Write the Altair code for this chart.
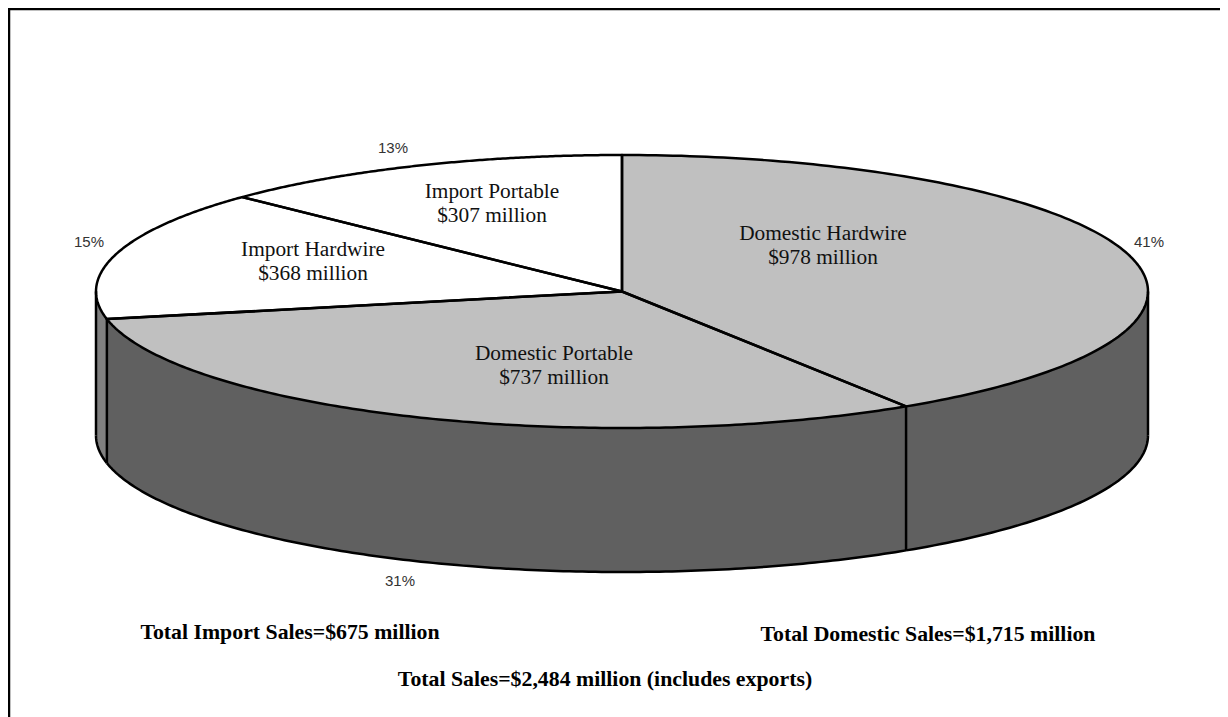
import numpy as np
import pandas as pd
import altair as alt

# ---- values ----
slices = ["Domestic Hardwire", "Domestic Portable", "Import Hardwire", "Import Portable"]
sales = [978, 737, 368, 307]
percent = ["41%", "31%", "15%", "13%"]
amount = ["$978 million", "$737 million", "$368 million", "$307 million"]
totals = ["Total Import Sales=$675 million", "Total Domestic Sales=$1,715 million",
          "Total Sales=$2,484 million (includes exports)"]

# ---- look ----
top_fill = ["#c0c0c0", "#c0c0c0", "#ffffff", "#ffffff"]
side_fill = ["#606060", "#606060", "#808080", "#808080"]
CX, CY, RX, RY, DEPTH = 622.0, 291.5, 526.0, 136.5, 144.0
PAGE_W, PAGE_H = 1228, 717
MARGIN = 8
PAD = 5   # vega's own padding round the plot area
label_xy = [(823, 234), (554, 354), (313, 250), (492, 192)]
percent_xy = [(1149, 242), (400, 581), (89, 242), (393, 148)]
totals_xy = [(290, 632), (928, 634), (605, 679)]

# ---- pie geometry, derived from the sales values ----
share = np.array(sales, dtype=float) / sum(sales)
edges = np.concatenate([[0.0], np.cumsum(share)]) * 2 * np.pi


def rim(t, dy=0.0):
    return CX + RX * np.sin(t), CY - RY * np.cos(t) + dy


def chains(px, py):
    """Upper and lower boundary of a convex polygon as functions of x."""
    xs = np.unique(np.round(px, 3))
    rows = []
    for x in xs:
        hits = []
        for i in range(len(px) - 1):
            x0, x1, y0, y1 = px[i], px[i + 1], py[i], py[i + 1]
            lo, hi = min(x0, x1), max(x0, x1)
            if lo - 1e-3 <= x <= hi + 1e-3:
                if abs(x1 - x0) < 1e-6:
                    hits += [y0, y1]
                else:
                    hits.append(y0 + (y1 - y0) * (x - x0) / (x1 - x0))
        rows.append((x, min(hits), max(hits)))
    return rows


top_rows, outline_rows, side_rows = [], [], []
for k in range(len(slices)):
    t = np.linspace(edges[k], edges[k + 1], 160)
    ax, ay = rim(t)
    px = np.concatenate([[CX], ax, [CX]])
    py = np.concatenate([[CY], ay, [CY]])
    for x, y0, y1 in chains(px, py):
        top_rows.append(dict(s=slices[k], x=x, y=y0, yb=y1, tone=top_fill[k]))
    for j, (x, y) in enumerate(zip(px, py)):
        outline_rows.append(dict(s="top" + str(k), i=j, x=x, y=y))

    # visible wall: only the part of the rim on the front half
    front = t[(t >= np.pi / 2) & (t <= 3 * np.pi / 2)]
    if len(front) == 0:
        continue
    if edges[k] < np.pi / 2 < edges[k + 1]:
        front = np.concatenate([[np.pi / 2], front])
    if edges[k] < 3 * np.pi / 2 < edges[k + 1]:
        front = np.concatenate([front, [3 * np.pi / 2]])
    fx, fy = rim(front)
    order = np.argsort(fx)
    for x, y in zip(fx[order], fy[order]):
        side_rows.append(dict(s=slices[k], x=x, y=y, yb=y + DEPTH, tone=side_fill[k]))
    gx, gy = rim(front, DEPTH)
    for j, (x, y) in enumerate(zip(gx, gy)):
        outline_rows.append(dict(s="bottom" + str(k), i=j, x=x, y=y))

# wall edges: the two silhouette edges and the two visible slice joints
for n, t0 in enumerate([np.pi / 2, 3 * np.pi / 2, edges[1], edges[2]]):
    x0, y0 = rim(np.array(t0))
    outline_rows.append(dict(s="edge" + str(n), i=0, x=float(x0), y=float(y0)))
    outline_rows.append(dict(s="edge" + str(n), i=1, x=float(x0), y=float(y0) + DEPTH))

# plot area inside vega's padding; the frame runs in the padding, off to the edges
W = PAGE_W - 2 * MARGIN - 2 * PAD
H = PAGE_H - MARGIN - 2 * PAD
LEFT, TOP = MARGIN + PAD, MARGIN + PAD
frame = pd.DataFrame(dict(x=[9, 9, PAGE_W], y=[PAGE_H, 9, 9], i=[0, 1, 2]))

top = pd.DataFrame(top_rows)
side = pd.DataFrame(side_rows)
outline = pd.DataFrame(outline_rows)

xs = alt.Scale(domain=[LEFT, LEFT + W], nice=False, zero=False)
ys = alt.Scale(domain=[TOP + H, TOP], nice=False, zero=False)
X = alt.X("x:Q", scale=xs, axis=None)
Y = alt.Y("y:Q", scale=ys, axis=None, stack=None)

side_layer = alt.Chart(side).mark_area(interpolate="linear", opacity=1).encode(
    x=X, y=Y, y2="yb:Q", detail="s:N", color=alt.Color("tone:N", scale=None))
top_layer = alt.Chart(top).mark_area(interpolate="linear", opacity=1).encode(
    x=X, y=Y, y2="yb:Q", detail="s:N", color=alt.Color("tone:N", scale=None))
outline_layer = alt.Chart(outline).mark_line(
    color="#000000", strokeWidth=2.5, strokeJoin="round", interpolate="linear").encode(
    x=X, y=Y, detail="s:N", order="i:Q")
frame_layer = alt.Chart(frame).mark_line(color="#000000", strokeWidth=2.5).encode(
    x=X, y=Y, order="i:Q")

name_df = pd.DataFrame(dict(t=slices, x=[p[0] for p in label_xy], y=[p[1] for p in label_xy]))
amount_df = pd.DataFrame(dict(t=amount, x=[p[0] for p in label_xy], y=[p[1] + 24 for p in label_xy]))
percent_df = pd.DataFrame(dict(t=percent, x=[p[0] for p in percent_xy], y=[p[1] for p in percent_xy]))
totals_df = pd.DataFrame(dict(t=totals, x=[p[0] for p in totals_xy], y=[p[1] for p in totals_xy]))

serif = dict(font="Liberation Serif", fontSize=21.33, color="#111111", align="center", baseline="middle")
text_layers = [
    alt.Chart(name_df).mark_text(**serif).encode(x=X, y=Y, text="t:N"),
    alt.Chart(amount_df).mark_text(**serif).encode(x=X, y=Y, text="t:N"),
    alt.Chart(percent_df).mark_text(font="Liberation Sans", fontSize=15, color="#333333",
                                    align="center", baseline="middle").encode(x=X, y=Y, text="t:N"),
    alt.Chart(totals_df).mark_text(font="Liberation Serif", fontSize=21.8, fontWeight="bold", color="#000000",
                                   align="center", baseline="middle").encode(x=X, y=Y, text="t:N"),
]

chart = alt.layer(frame_layer, side_layer, top_layer, outline_layer, *text_layers).properties(
    width=W, height=H, background="#ffffff",
    autosize=alt.AutoSizeParams(type="none"),
).configure_view(stroke=None)

chart.save("out.html", embed_options={"renderer": "svg", "actions": False})
